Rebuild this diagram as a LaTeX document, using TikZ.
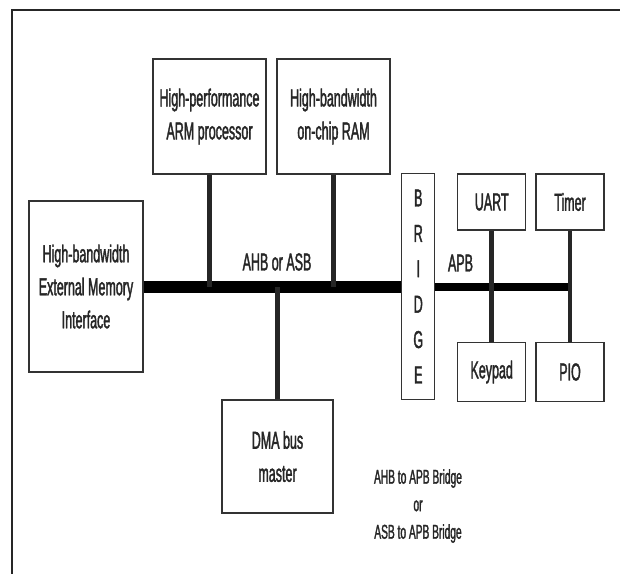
\documentclass[tikz,border=0pt]{standalone}
\usepackage{fontspec}
\usepackage{tikz}
\usetikzlibrary{positioning, calc}
\newfontfamily\narrowsf[FakeStretch=0.51, FakeBold=1.5]{Liberation Sans}

\begin{document}
\begin{tikzpicture}[
            x=1pt, y=-1pt,
            font=\narrowsf\fontsize{24.5}{33}\selectfont,
            every node/.style={align=center, text=black!85},
            blk/.style={draw=black!80, line width=1.2pt, inner sep=0pt},
            stub/.style={draw=black!85, line width=4.5pt},
            ahbbus/.style={draw=black, line width=12pt},
            apbbus/.style={draw=black, line width=8pt}
        ]
        \useasboundingbox (0,0) rectangle (620,574);

        % Rows (pixel units, y grows downwards)
        \def\ytop{116.5}   % processor and RAM
        \def\ybus{286.5}   % AHB / ASB system bus
        \def\yper{202}     % UART, Timer
        \def\ylow{372}     % Keypad, PIO

        % --- Outer frame ---
        \draw[black!85, line width=1.5pt] (620,10) -- (12,10) -- (12,574);

        % --- System bus side ---
        \node[blk, minimum width=114, minimum height=171] (ext) at (86, \ybus) {High-bandwidth\\External Memory\\Interface};
        \node[blk, minimum width=113, minimum height=115] (arm) at (209.5, \ytop) {High-performance\\ARM processor};
        \node[blk, minimum width=113, minimum height=115] (ram) at (333.5, \ytop) {High-bandwidth\\on-chip RAM};
        \node[blk, minimum width=111, minimum height=113] (dma) at (277.5, 456.5) {DMA bus\\master};

        % --- Bridge and peripherals ---
        \node[blk, minimum width=33, minimum height=226, font=\narrowsf\fontsize{24.5}{35.4}\selectfont] (bridge) at (418.3, \ybus) {B\\R\\I\\D\\G\\E};
        \node[blk, minimum width=68, minimum height=56] (uart) at (491.7, \yper) {UART};
        \node[blk, minimum width=68, minimum height=56] (timer) at (570, \yper) {Timer};
        \node[blk, minimum width=68, minimum height=59] (keypad) at (491.7, \ylow) {Keypad};
        \node[blk, minimum width=68, minimum height=59] (pio) at (570, \ylow) {PIO};

        % --- Buses ---
        \draw[ahbbus] (ext.east) -- (bridge.west);
        \draw[stub] (arm.south) -- (arm.south |- ext.east);
        \draw[stub] (ram.south) -- (ram.south |- ext.east);
        \draw[stub] (dma.north) -- (dma.north |- ext.east);

        \draw[apbbus] (bridge.east) -- (timer.south |- bridge.east);
        \draw[stub] (uart.south) -- (keypad.north);
        \draw[stub] (timer.south) -- (pio.north);

        % --- Labels ---
        \node (ahblbl) at (277, 262) {AHB or ASB};
        \node (apblbl) at (460.5, 263) {APB};
        \node[font=\narrowsf\fontsize{20}{27.5}\selectfont] (caption) at (418, 506) {AHB to APB Bridge\\or\\ASB to APB Bridge};

        \end{tikzpicture}
\end{document}
